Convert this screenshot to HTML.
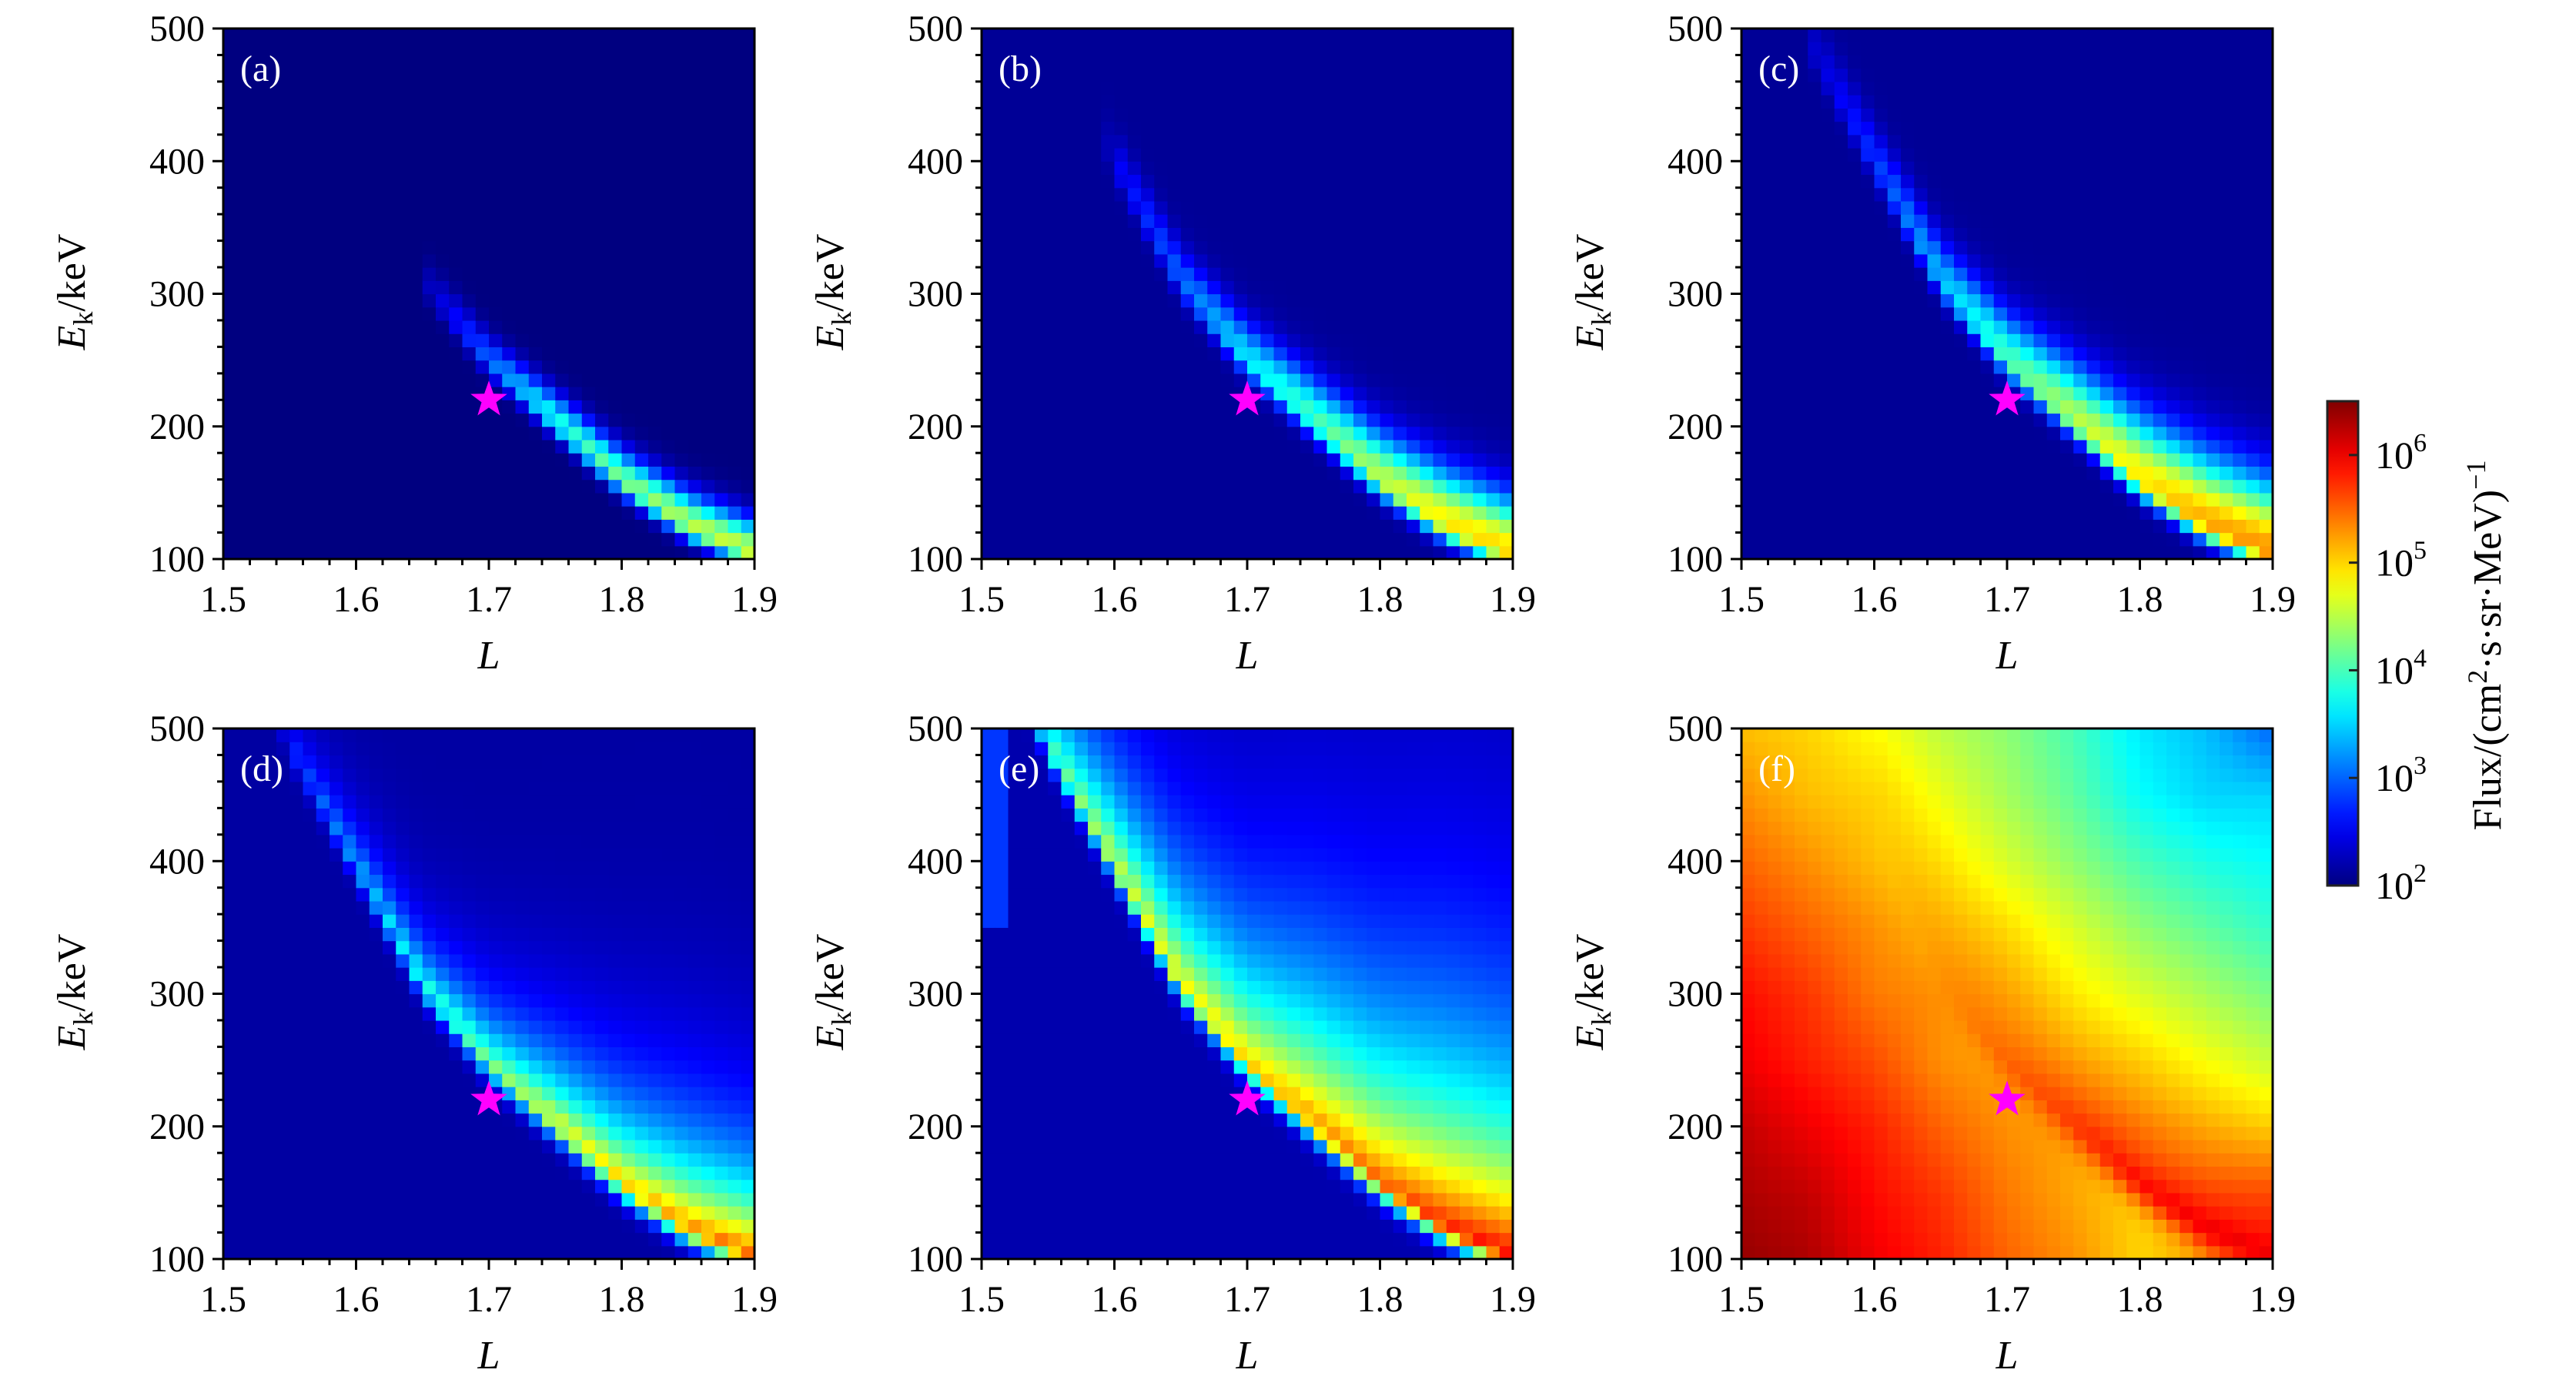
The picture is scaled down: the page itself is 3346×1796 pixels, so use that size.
<!DOCTYPE html>
<html><head><meta charset="utf-8">
<style>
html,body{margin:0;padding:0;background:#fff;}
svg{display:block;}
text{font-family:"Liberation Serif",serif;}
</style></head>
<body>
<svg id="fig" width="3346" height="1796" viewBox="0 0 3346 1796" xmlns="http://www.w3.org/2000/svg"></svg>
<script>
// ---- data (log10 flux) ----
const L_nodes = [1.50,1.55,1.60,1.65,1.70,1.75,1.80,1.85,1.90];
const ridgeCenterE = [600,490,400,310,250,205,160,126,104];
const peakA = [0,0,0,2.2,3.0,3.8,4.2,4.5,4.6];
const peakB = [0,0,2.5,3.0,3.6,4.0,4.5,4.9,5.0];
const peakC = [0,2.3,2.8,3.4,4.0,4.5,4.9,5.2,5.3];
const peakD = [0,2.7,3.3,3.8,4.2,4.7,5.0,5.3,5.5];
const peakE = [0,4.0,4.6,4.8,5.0,5.3,5.5,5.8,5.9];
const peakF = [0,0,5.0,5.3,5.5,5.7,5.9,6.0,6.0];
const widthA = [18,18,18,18,18,20,22,24,24];
const widthB = [22,22,22,24,28,32,36,40,40];
const widthC = [26,26,26,30,35,42,48,52,52];
const widthD = [25,25,28,32,40,48,56,62,62];
const widthE = [60,60,65,75,85,100,110,120,120];
const widthF = [45,45,45,45,45,45,45,45,45];
const bgA = 2.0, bgB = 2.1, bgC = 2.1, bgD = 2.15, bgE = 2.2;
// panel f background grid: rows E = 500,450,...,100 ; cols L = 1.50..1.90
const fE = [500,450,400,350,300,250,200,150,100];
const fGrid = [
 [5.1,5.0,4.8,4.5,4.3,4.0,3.6,3.4,3.0],
 [5.3,5.1,5.0,4.7,4.4,4.1,3.7,3.5,3.5],
 [5.5,5.3,5.1,4.9,4.6,4.3,4.0,3.8,3.7],
 [5.7,5.5,5.3,5.1,4.9,4.6,4.3,4.1,3.9],
 [5.9,5.7,5.4,5.3,5.1,4.8,4.6,4.4,4.2],
 [6.0,5.8,5.6,5.3,5.2,5.0,4.9,4.7,4.5],
 [6.2,6.0,5.8,5.5,5.3,5.2,5.1,5.0,4.9],
 [6.3,6.2,5.9,5.7,5.4,5.2,5.0,5.2,5.4],
 [6.4,6.3,6.0,5.8,5.5,5.3,5.0,5.2,5.5]
];
const xTicks = [1.5,1.6,1.7,1.8,1.9];
const yTicks = [100,200,300,400,500];
const cbTicks = [2,3,4,5,6];
const starL = 1.7, starE = 220;

const panels = [
 {id:'a',x:290,y:37,peak:peakA,w:widthA,bg:bgA,sig:8,gauss:true},
 {id:'b',x:1275,y:37,peak:peakB,w:widthB,bg:bgB,sig:9,gauss:true},
 {id:'c',x:2262,y:37,peak:peakC,w:widthC,bg:bgC,sig:9,gauss:true},
 {id:'d',x:290,y:946,peak:peakD,w:widthD,bg:bgD,sig:10},
 {id:'e',x:1275,y:946,peak:peakE,w:widthE,bg:bgE,sig:10,strip:true},
 {id:'f',x:2262,y:946,peak:peakF,w:widthF,sig:14,grid:true}
];
const PW=690, PH=689, NL=40, NE=40;
const NS='http://www.w3.org/2000/svg';
const svg=document.getElementById('fig');
function el(t,a,p){const e=document.createElementNS(NS,t);for(const k in a)e.setAttribute(k,a[k]);(p||svg).appendChild(e);return e;}
function interp(xs,ys,x){if(x<=xs[0])return ys[0];for(let i=1;i<xs.length;i++){if(x<=xs[i]){const t=(x-xs[i-1])/(xs[i]-xs[i-1]);return ys[i-1]+t*(ys[i]-ys[i-1]);}}return ys[ys.length-1];}
function jet(v){v=Math.max(0,Math.min(1,v));
 const r=Math.max(0,Math.min(1,1.5-Math.abs(4*v-3))),g=Math.max(0,Math.min(1,1.5-Math.abs(4*v-2))),b=Math.max(0,Math.min(1,1.5-Math.abs(4*v-1)));
 return 'rgb('+Math.round(r*255)+','+Math.round(g*255)+','+Math.round(b*255)+')';}
const LMIN=2, LMAX=6.5;
function fGridVal(L,E){
 const colVals=fGrid.map(r=>interp(L_nodes,r,L));
 return interp(fE.slice().reverse(),colVals.slice().reverse(),E);
}
function value(p,L,E){
 const c=interp(L_nodes,ridgeCenterE,L);
 const pk=interp(L_nodes,p.peak,L);
 const w=interp(L_nodes,p.w,L);
 const d=E-c;
 let prof;
 if(d<0) prof=Math.exp(-0.5*(d/p.sig)*(d/p.sig));
 else prof=p.gauss?Math.exp(-(d/w)*(d/w)):Math.exp(-d/w);
 let bg=p.grid?fGridVal(L,E):p.bg;
 if(p.strip && L<1.52 && E>350) bg=2.8;
 if(pk>bg){const v=bg+(pk-bg)*prof; return p.grid?Math.max(bg,v):v;}
 return bg;
}
function xs(p,L){return p.x+(L-1.5)/0.4*PW;}
function ys(p,E){return p.y+PH-(E-100)/400*PH;}

panels.forEach(p=>{
 const g=el('g',{});
 
 
 const hm=el('g',{},g);
 
 
 for(let i=0;i<NL;i++){for(let j=0;j<NE;j++){
  const L0=1.5+i*0.01, E0=100+j*10;
  const v=value(p,L0+0.005,E0+5);
  const x0=xs(p,L0), x1=xs(p,L0+0.01), y0=ys(p,E0+10), y1=ys(p,E0);
  const r=el('rect',{x:x0.toFixed(2),y:y0.toFixed(2),width:(x1-x0+0.6).toFixed(2),height:(y1-y0+0.6).toFixed(2),fill:jet((v-LMIN)/(LMAX-LMIN))},hm);
  
  
 }}
 const fr=el('rect',{x:p.x,y:p.y,width:PW,height:PH,fill:'none',stroke:'#000','stroke-width':3},g);
 
 
 for(let k=0;k<=20;k++){const L=1.5+k*0.02;const x=xs(p,L);const maj=k%5==0;
  el('line',{x1:x,x2:x,y1:p.y+PH,y2:p.y+PH+(maj?14:8),stroke:'#000','stroke-width':3},g);}
 for(let k=0;k<=20;k++){const E=100+k*20;const y=ys(p,E);const maj=k%5==0;
  el('line',{x1:p.x,x2:p.x-(maj?14:8),y1:y,y2:y,stroke:'#000','stroke-width':3},g);}
 xTicks.forEach(t=>{const tx=el('text',{x:xs(p,t),y:p.y+PH+68,'font-size':48,'text-anchor':'middle',fill:'#000'},g);tx.textContent=t.toFixed(1);
  
  });
 yTicks.forEach(t=>{const tx=el('text',{x:p.x-24,y:ys(p,t)+16,'font-size':48,'text-anchor':'end',fill:'#000'},g);tx.textContent=t;
  
  });
 const xl=el('text',{x:p.x+PW/2,y:p.y+PH+142,'font-size':52,'font-style':'italic','text-anchor':'middle',fill:'#000'},g);
 xl.textContent='L';
 
 
 const cx=p.x-180, cy=p.y+342;
 const yl=el('text',{x:cx,y:cy,'font-size':52,'text-anchor':'middle',fill:'#000',transform:'rotate(-90 '+cx+' '+cy+')'},g);
 yl.innerHTML='<tspan font-style="italic">E</tspan><tspan font-size="36" dy="10">k</tspan><tspan dy="-10">/keV</tspan>';
 
 
 const lb=el('text',{x:p.x+22,y:p.y+68,'font-size':48,fill:'#ffffff',style:'fill:#ffffff'},g);
 lb.textContent='('+p.id+')';
 
 
 const sx=xs(p,starL), sy=ys(p,starE), R=25, r2=R*0.4;
 let pts=[];for(let k=0;k<10;k++){const a=-Math.PI/2+k*Math.PI/5;const rr=k%2?r2:R;pts.push((sx+rr*Math.cos(a)).toFixed(1)+','+(sy+rr*Math.sin(a)).toFixed(1));}
 const st=el('polygon',{points:pts.join(' '),fill:'#ff00ff'},g);
 
 
});
// colorbar
const CBX=3023, CBY=521, CBW=40, CBB=1150;
const cb=el('g',{});


const defs=el('defs',{});
const grad=el('linearGradient',{id:'jetg',x1:0,y1:1,x2:0,y2:0},defs);
for(let k=0;k<=20;k++){el('stop',{offset:k/20,'stop-color':jet(k/20)},grad);}
el('rect',{x:CBX,y:CBY,width:CBW,height:CBB-CBY,fill:'url(#jetg)',stroke:'#222','stroke-width':3},cb);
cbTicks.forEach(t=>{const y=CBB-(t-LMIN)/(LMAX-LMIN)*(CBB-CBY);
 el('line',{x1:CBX+CBW-12,x2:CBX+CBW,y1:y,y2:y,stroke:'#222','stroke-width':3},cb);
 const tx=el('text',{x:CBX+62,y:y+17,'font-size':50,fill:'#000'},cb);
 tx.innerHTML='10<tspan font-size="34" dy="-22">'+t+'</tspan>';
 
 });
const cl=el('text',{x:3248,y:838,'font-size':52,'text-anchor':'middle',fill:'#000',transform:'rotate(-90 3248 838)'},cb);
cl.innerHTML='Flux/(cm<tspan font-size="36" dy="-18">2</tspan><tspan dy="18">·s·sr·MeV)</tspan><tspan font-size="36" dy="-20">−1</tspan>';


</script>
</body></html>
